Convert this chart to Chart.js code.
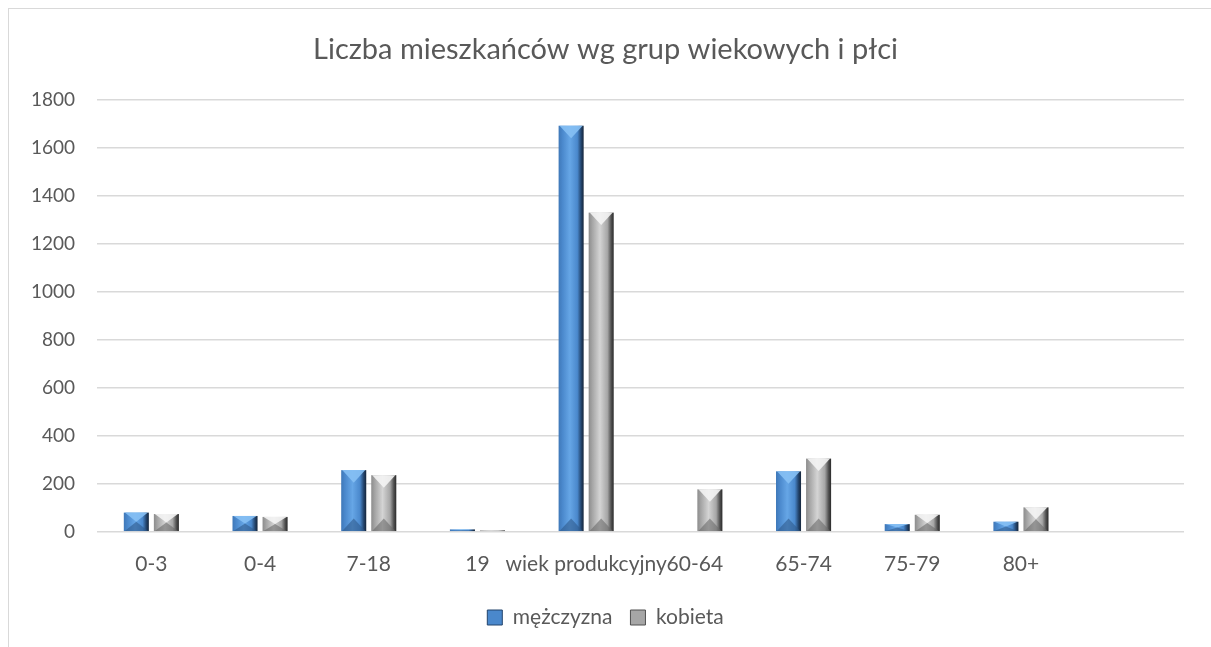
<!DOCTYPE html>
<html>
<head>
<meta charset="utf-8">
<script src="https://cdn.jsdelivr.net/npm/chart.js@4.4.1/dist/chart.umd.min.js"></script>
<style>
    html, body { margin: 0; padding: 0; background: #ffffff; }
    #frame {
        position: absolute;
        left: 8px;
        top: 8px;
        width: 1203px;
        height: 639px;
        border-left: 1px solid #d9d9d9;
        border-top: 1px solid #d9d9d9;
    }
</style>
</head>
<body>
<div id="frame"><canvas id="ageChart"></canvas></div>
<script>

// ======================================
// Data
// ======================================

const ageGroups = ["0-3", "0-4", "7-18", "19", "wiek produkcyjny", "60-64", "65-74", "75-79", "80+", ""];

const maleValues = [80, 66, 257, 10, 1692, 0, 252, 32, 42, null];

const femaleValues = [74, 62, 236, 6, 1330, 177, 305, 71, 102, null];

const yTicks = [0, 200, 400, 600, 800, 1000, 1200, 1400, 1600, 1800];

// ======================================
// Bevel style for bars
// ======================================

const palettes = {
    male: {
        edge: "#3f78b8", light: "#66a6e6", mid: "#4a88cc", dark: "#23446c", deep: "#15253a",
        top: "#86c0f4", bottom: "#2e5a8c"
    },
    female: {
        edge: "#8c8c8c", light: "#d4d4d4", mid: "#a6a6a6", dark: "#505050", deep: "#2a2a2a",
        top: "#f4f4f4", bottom: "#6a6a6a"
    }
};

const bevelPlugin = {

    id: "bevel",

    afterDatasetDraw(chart, args) {

        const ctx = chart.ctx;
        const meta = args.meta;
        const pal = palettes[meta.controller.getDataset().key];

        meta.data.forEach(function (bar) {

            const h = bar.base - bar.y;

            if (!(h > 0.5)) return;

            const left = bar.x - bar.width / 2;
            const right = bar.x + bar.width / 2;
            const depth = Math.min(bar.width / 2, h / 2);

            ctx.save();

            // face
            const g = ctx.createLinearGradient(left, 0, right, 0);
            g.addColorStop(0, pal.edge);
            g.addColorStop(0.15, pal.mid);
            g.addColorStop(0.45, pal.light);
            g.addColorStop(0.75, pal.mid);
            g.addColorStop(0.9, pal.dark);
            g.addColorStop(1, pal.deep);
            ctx.fillStyle = g;
            ctx.fillRect(left, bar.y, bar.width, h);

            // top bevel
            ctx.fillStyle = pal.top;
            ctx.globalAlpha = 0.9;
            ctx.beginPath();
            ctx.moveTo(left + 1, bar.y);
            ctx.lineTo(right - 1, bar.y);
            ctx.lineTo(bar.x, bar.y + depth);
            ctx.closePath();
            ctx.fill();

            // bottom bevel
            ctx.fillStyle = pal.bottom;
            ctx.globalAlpha = 0.6;
            ctx.beginPath();
            ctx.moveTo(left + 1, bar.base);
            ctx.lineTo(right - 1, bar.base);
            ctx.lineTo(bar.x, bar.base - depth);
            ctx.closePath();
            ctx.fill();

            ctx.restore();

        });
    }
};

// ======================================
// Create Chart
// ======================================

const ctx = document
    .getElementById("ageChart")
    .getContext("2d");

const ageChart = new Chart(ctx, {

    type: "bar",

    data: {

        labels: ageGroups,

        datasets: [
            {
                key: "male",
                label: "mężczyzna",
                data: maleValues,
                backgroundColor: "rgba(0,0,0,0)",
                borderWidth: 0,
                categoryPercentage: 0.553,
                barPercentage: 0.833
            },
            {
                key: "female",
                label: "kobieta",
                data: femaleValues,
                backgroundColor: "rgba(0,0,0,0)",
                borderWidth: 0,
                categoryPercentage: 0.553,
                barPercentage: 0.833
            }
        ]
    },

    options: {

        responsive: true,

        maintainAspectRatio: false,

        animation: false,

        layout: {
            padding: { left: 18, right: 28, top: 13, bottom: 10 }
        },

        plugins: {

            title: {
                display: true,
                text: "Liczba mieszkańców wg grup wiekowych i płci",
                color: "#595959",
                font: { family: "Lato", size: 29, weight: "normal" },
                padding: { top: 10, bottom: 33 }
            },

            legend: {
                position: "bottom",
                labels: {
                    color: "#595959",
                    font: { family: "Lato", size: 21 },
                    boxWidth: 15,
                    boxHeight: 15,
                    padding: 18,
                    generateLabels(chart) {
                        return chart.data.datasets.map(function (ds, i) {
                            const pal = palettes[ds.key];
                            return {
                                text: ds.label,
                                fillStyle: pal.mid,
                                strokeStyle: pal.dark,
                                lineWidth: 1,
                                fontColor: "#595959",
                                hidden: false,
                                datasetIndex: i
                            };
                        });
                    }
                }
            },

            tooltip: { enabled: false }

        },

        scales: {

            x: {
                grid: { display: false },
                border: { display: false },
                ticks: {
                    color: "#595959",
                    font: { family: "Lato", size: 21 },
                    autoSkip: false,
                    maxRotation: 0,
                    padding: 12
                }
            },

            y: {
                min: 0,
                max: 1800,
                afterBuildTicks(axis) {
                    axis.ticks = yTicks.map(function (v) { return { value: v }; });
                },
                afterFit(axis) {
                    axis.width = 70;
                },
                grid: { color: "#d9d9d9", lineWidth: 1.5, drawTicks: false },
                border: { display: false },
                ticks: {
                    color: "#595959",
                    font: { family: "Lato", size: 19 },
                    padding: 22,
                    callback: function (value) { return String(value); }
                }
            }
        }
    },

    plugins: [bevelPlugin]

});

</script>
</body>
</html>
